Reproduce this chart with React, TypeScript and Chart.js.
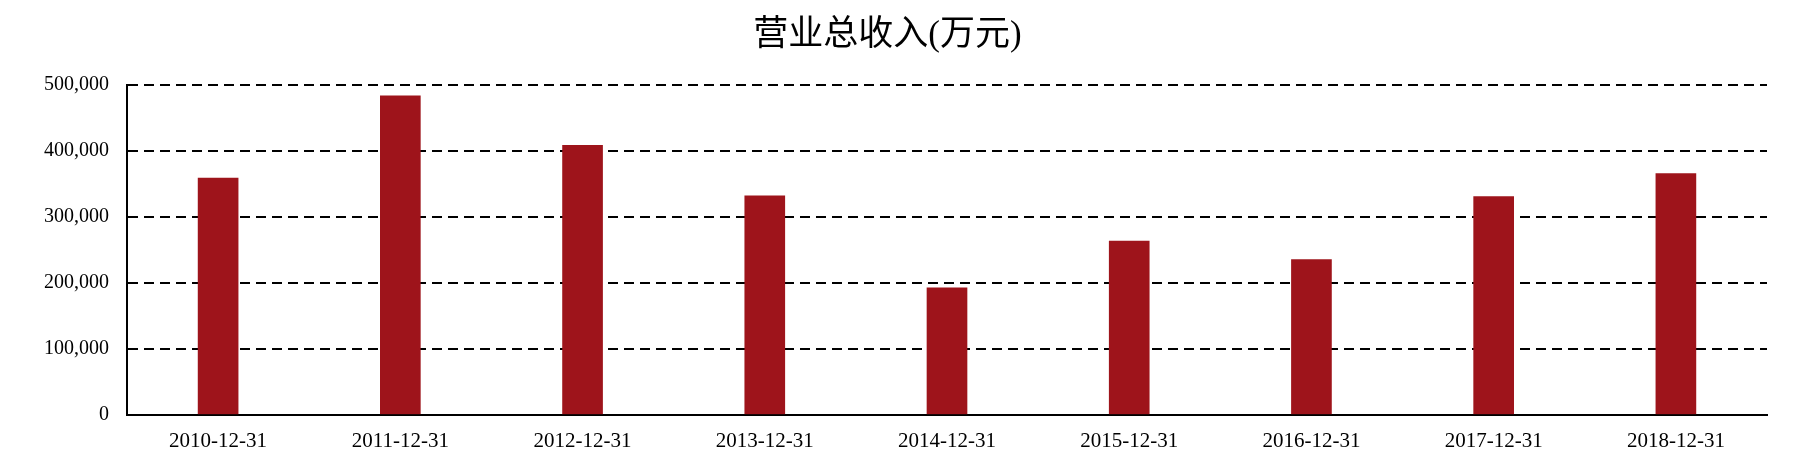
import { useEffect, useRef } from "react";
import { Chart, registerables } from "chart.js";

Chart.register(...registerables);

const categories = [
  "2010-12-31",
  "2011-12-31",
  "2012-12-31",
  "2013-12-31",
  "2014-12-31",
  "2015-12-31",
  "2016-12-31",
  "2017-12-31",
  "2018-12-31",
];

// 营业总收入, 万元
const revenue = [358800, 483500, 408700, 331900, 192600, 263400, 235500, 330800, 365700];

const yTicks = [0, 100000, 200000, 300000, 400000, 500000];

const FONT = "'Liberation Serif', 'Noto Sans CJK SC', serif";

export default function App() {
  const chartRef = useRef<HTMLCanvasElement>(null);
  const chartInstance = useRef<Chart | null>(null);

  useEffect(() => {
    if (!chartRef.current) return;
    const ctx = chartRef.current.getContext("2d");
    if (!ctx) return;

    if (chartInstance.current) {
      chartInstance.current.destroy();
    }

    chartInstance.current = new Chart(ctx, {
      type: "bar",
      data: {
        labels: categories,
        datasets: [
          {
            label: "营业总收入(万元)",
            data: revenue,
            backgroundColor: "#9e141b",
            borderWidth: 0,
            barThickness: 40,
          },
        ],
      },
      options: {
        responsive: true,
        maintainAspectRatio: false,
        animation: false,
        layout: {
          padding: { left: 0, right: 29, top: 0, bottom: 0 },
        },
        plugins: {
          legend: { display: false },
          tooltip: { enabled: false },
          title: {
            display: true,
            text: "营业总收入(万元)",
            color: "#000",
            font: { family: FONT, size: 35, weight: "normal" },
            padding: { top: 7, bottom: 28 },
          },
        },
        scales: {
          x: {
            grid: { display: false, drawTicks: false },
            border: { display: true, color: "#000", width: 2 },
            ticks: {
              color: "#000",
              padding: 14,
              maxRotation: 0,
              font: { family: FONT, size: 21 },
            },
          },
          y: {
            min: yTicks[0],
            max: yTicks[yTicks.length - 1],
            afterBuildTicks: (scale) => {
              scale.ticks = yTicks.map((v) => ({ value: v }));
            },
            afterFit: (scale) => {
              scale.width = 119;
            },
            grid: {
              color: "#000",
              lineWidth: 2,
              drawTicks: false,
            },
            border: { display: true, color: "#000", width: 2, dash: [10, 6] },
            ticks: {
              color: "#000",
              padding: 18,
              font: { family: FONT, size: 20 },
              callback: (v) => Number(v).toLocaleString("en-US"),
            },
          },
        },
      },
    });

    return () => {
      if (chartInstance.current) {
        chartInstance.current.destroy();
        chartInstance.current = null;
      }
    };
  }, []);

  return (
    <div style={{ position: "relative", width: 1788, height: 460 }}>
      <canvas ref={chartRef} />
    </div>
  );
}
